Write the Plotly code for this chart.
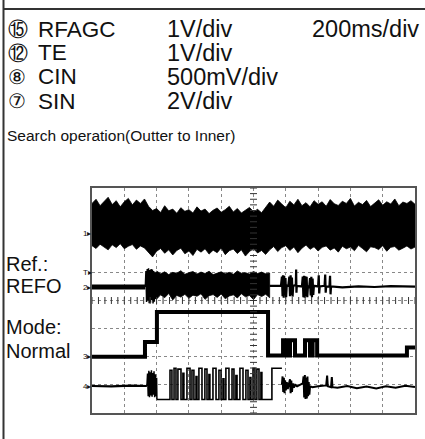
import plotly.graph_objects as go

W, H = 425, 439

# ---------------- text content ----------------
channel_nums = ["⑮", "⑫", "⑧", "⑦"]
channel_names = ["RFAGC", "TE", "CIN", "SIN"]
volts_div = ["1V/div", "1V/div", "500mV/div", "2V/div"]
time_div = "200ms/div"
subtitle = "Search operation(Outter to Inner)"
side_labels = ["Ref.:", "REFO", "Mode:", "Normal"]
marker_labels = ["1", "T", "2", "3", "4"]
marker_levels = [2.4, 1.0, 0.48, -2.0, -3.04]   # divisions

# ---------------- RFAGC (noise band envelope, ms / divisions) ----------------
rfagc_t = list(range(0, 2001, 25))
rfagc_hi = [3.45, 3.60, 3.37, 3.53, 3.67, 3.41, 3.55, 3.33, 3.51, 3.63, 3.40, 3.57, 3.45, 3.61,
            3.35, 3.20, 3.27, 3.13, 3.37, 3.19, 3.25, 3.10, 3.30, 3.17, 3.23, 3.11, 3.33, 3.18, 3.25,
            3.09, 3.21, 3.29, 3.14, 3.23, 3.35, 3.15, 3.27, 3.11, 3.20, 3.31, 3.16, 3.24, 3.12, 3.29,
            3.50, 3.35, 3.57, 3.43, 3.30, 3.53, 3.40, 3.60, 3.37, 3.48, 3.33, 3.55, 3.42, 3.51, 3.35,
            3.59, 3.44, 3.38, 3.53, 3.45, 3.63, 3.36, 3.49, 3.41, 3.56, 3.34, 3.47, 3.58, 3.39, 3.51,
            3.43, 3.61, 3.37, 3.50, 3.45, 3.55, 3.42]
rfagc_lo = [1.95, 1.85, 2.00, 1.90, 1.80, 1.98, 1.88, 2.02, 1.84, 1.93, 1.99, 1.82, 1.94, 1.87,
            1.70, 1.55, 1.75, 1.85, 1.68, 1.80, 1.62, 1.78, 1.86, 1.66, 1.76, 1.60, 1.82, 1.72, 1.84,
            1.65, 1.79, 1.70, 1.87, 1.63, 1.77, 1.83, 1.67, 1.80, 1.58, 1.74, 1.85, 1.69, 1.78, 1.64,
            1.80, 1.92, 1.74, 1.88, 1.95, 1.78, 1.90, 1.70, 1.86, 1.97, 1.82, 1.91, 1.76, 1.89, 1.94,
            1.79, 1.87, 1.72, 1.93, 1.84, 1.90, 1.77, 1.96, 1.85, 1.73, 1.91, 1.88, 1.81, 1.95, 1.75,
            1.89, 1.92, 1.79, 1.86, 1.94, 1.83, 1.90]

# ---------------- TE ----------------
te_base_t = [0, 80, 160, 240, 330]
te_base_y = [0.48, 0.47, 0.49, 0.48, 0.48]
te_burst_t = [330, 334, 338, 342, 346, 350, 354, 358, 362, 366, 370, 374, 378, 382, 386, 390, 394, 398, 402]
te_burst_y = [0.48, 1.05, -0.05, 1.12, 0.00, 1.15, -0.10, 1.08, -0.08, 1.12, 0.02, 1.10, -0.11, 1.05,
              -0.04, 1.00, 0.05, 1.02, 0.10]
te_band_t = list(range(400, 1101, 25))
te_band_hi = [1.05, 0.95, 1.02, 0.92, 1.00, 0.97, 1.06, 0.93, 0.99, 1.03, 0.94, 1.01, 0.96, 1.04, 0.92,
              0.98, 1.02, 0.95, 1.00, 0.93, 1.05, 0.97, 0.99, 0.94, 1.03, 0.96, 1.01, 0.95, 0.98]
te_band_lo = [0.05, 0.20, 0.10, 0.25, 0.02, 0.18, 0.12, 0.22, 0.08, 0.19, 0.15, 0.24, 0.04, 0.17, 0.21,
              0.11, 0.23, 0.06, 0.16, 0.20, 0.09, 0.24, 0.13, 0.18, 0.03, 0.21, 0.14, 0.22, 0.10]
te_tail_t = [1100, 1170, 1176, 1180, 1183, 1187, 1190, 1194, 1198, 1202, 1206, 1215, 1222, 1226, 1230,
             1234, 1238, 1242, 1246, 1262, 1264, 1266, 1268, 1300, 1305, 1309, 1313, 1317, 1321, 1325,
             1329, 1333, 1337, 1345, 1350, 1354, 1358, 1362, 1366, 1370, 1374, 1400, 1404, 1407, 1410,
             1440, 1444, 1447, 1450, 1470, 1474, 1477, 1480, 1550, 1650, 1750, 1850, 2000]
te_tail_y = [0.52, 0.52, 0.85, 0.15, 0.90, 0.10, 0.88, 0.18, 0.80, 0.12, 0.55, 0.50, 0.85, 0.15, 0.90,
             0.20, 0.82, 0.14, 0.52, 0.55, 1.10, 0.28, 0.52, 0.50, 0.85, 0.12, 0.88, 0.10, 0.86, 0.16,
             0.84, 0.12, 0.50, 0.48, 0.80, 0.18, 0.84, 0.12, 0.78, 0.20, 0.52, 0.50, 0.90, 0.25, 0.50,
             0.52, 0.92, 0.28, 0.50, 0.49, 0.88, 0.22, 0.50, 0.47, 0.50, 0.48, 0.51, 0.49]

# ---------------- CIN (step) ----------------
cin_t = [0, 328, 402, 1090, 1183, 1207, 1226, 1257, 1319, 1350, 1366, 1394, 1950, 2000]
cin_y = [-2.0, -1.48, -0.41, -1.96, -1.41, -1.96, -1.41, -1.96, -1.41, -1.96, -1.41, -1.96, -1.67, -1.67]

# ---------------- SIN ----------------
sin_start_t = [0, 120, 240, 340]
sin_start_y = [-3.04, -3.05, -3.03, -3.04]
sin_burst_t = [340, 344, 348, 352, 356, 360, 364, 368, 372, 376, 380, 384, 388, 392, 396, 400, 402]
sin_burst_y = [-3.04, -2.60, -3.40, -2.50, -3.44, -2.55, -3.38, -2.48, -3.42, -2.58, -3.35, -2.52,
               -3.44, -2.62, -3.40, -2.75, -3.52]
sin_low = -3.52
sin_pulse_on = [483, 508, 532, 563, 588, 619, 644, 662, 699, 724, 749, 786, 811, 829, 867, 891, 916,
                953, 978, 997, 1021, 1046]
sin_pulse_off = [495, 520, 551, 569, 607, 631, 650, 681, 712, 730, 768, 799, 817, 848, 879, 898, 935,
                 966, 984, 1009, 1034, 1052]
sin_pulse_top = [-2.48, -2.41, -2.44, -2.59, -2.41, -2.48, -2.70, -2.41, -2.44, -2.63, -2.41, -2.48,
                 -2.78, -2.41, -2.44, -2.67, -2.41, -2.48, -2.74, -2.41, -2.44, -2.56]
sin_high_t = [1114, 1176]
sin_high_y = -2.41
sin_tail_t = [1176, 1180, 1184, 1188, 1192, 1196, 1200, 1206, 1212, 1218, 1226, 1230, 1234, 1238, 1244,
              1250, 1258, 1270, 1290, 1305, 1310, 1314, 1318, 1322, 1326, 1330, 1334, 1338, 1342, 1346,
              1350, 1365, 1400, 1450, 1456, 1460, 1480, 1485, 1489, 1520, 1580, 1640, 1700, 1760, 1820,
              1880, 1940, 2000]
sin_tail_y = [-3.00, -2.70, -3.25, -2.75, -3.30, -2.85, -3.20, -2.90, -3.15, -3.00, -2.80, -3.30, -2.85,
              -3.25, -2.95, -3.10, -3.00, -3.05, -3.00, -2.95, -2.70, -3.45, -2.65, -3.50, -2.75, -3.48,
              -2.70, -3.40, -2.90, -3.35, -3.05, -3.08, -3.05, -3.02, -2.67, -3.05, -3.08, -2.72, -3.08,
              -3.10, -3.04, -3.12, -3.06, -3.13, -3.05, -3.10, -3.03, -3.08]

# ---------------- build figure ----------------
fig = go.Figure()
K = "black"

def band(t, hi, lo, lw=0.8):
    fig.add_trace(go.Scatter(x=list(t) + list(t)[::-1], y=list(hi) + list(lo)[::-1], mode="lines",
                             fill="toself", fillcolor=K, line=dict(color=K, width=lw)))

def line(t, y, lw, shape="linear"):
    fig.add_trace(go.Scatter(x=t, y=y, mode="lines", line=dict(color=K, width=lw, shape=shape)))

band(rfagc_t, rfagc_hi, rfagc_lo)

line(te_base_t, te_base_y, 5)
line(te_burst_t, te_burst_y, 1.5)
band(te_band_t, te_band_hi, te_band_lo)
line(te_tail_t, te_tail_y, 2.2)

line(cin_t, cin_y, 4, shape="hv")

line(sin_start_t, sin_start_y, 2.2)
line(sin_burst_t, sin_burst_y, 1.5)
px, py = [402], [sin_low]
for on, off, top in zip(sin_pulse_on, sin_pulse_off, sin_pulse_top):
    px += [on, on, off, off]
    py += [sin_low, top, top, sin_low]
px += [sin_high_t[0], sin_high_t[0], sin_high_t[1]]
py += [sin_low, sin_high_y, sin_high_y]
line(px, py, 1.6)
line(sin_tail_t, sin_tail_y, 2.0)

# minor ticks on the centre graticule lines
tx = [i * 40 for i in range(51)]
fig.add_trace(go.Scatter(x=tx, y=[0] * len(tx), mode="markers",
                         marker=dict(symbol="line-ns", size=5, line=dict(color="#333", width=1))))
ty = [i * 0.2 - 4 for i in range(41)]
fig.add_trace(go.Scatter(x=[1000] * len(ty), y=ty, mode="markers",
                         marker=dict(symbol="line-ew", size=5, line=dict(color="#333", width=1))))

X0, X1, Y0, Y1 = 92, 415, 188, 413
fig.update_xaxes(range=[0, 2000], domain=[X0 / W, X1 / W], dtick=200, showticklabels=False,
                 showgrid=True, gridcolor="#888", griddash="dot", gridwidth=1, zeroline=False,
                 showline=True, mirror=True, linecolor="#555", linewidth=1.5, ticks="")
fig.update_yaxes(range=[-4, 4], domain=[1 - Y1 / H, 1 - Y0 / H], dtick=1, showticklabels=False,
                 showgrid=True, gridcolor="#888", griddash="dot", gridwidth=1, zeroline=False,
                 showline=True, mirror=True, linecolor="#555", linewidth=1.5, ticks="")

FONT = "Liberation Sans, Arial, sans-serif"

def txt(x, y, s, size, anchor="left"):
    fig.add_annotation(x=x / W, y=1 - y / H, xref="paper", yref="paper", text=s, showarrow=False,
                       xanchor=anchor, yanchor="middle", borderpad=0,
                       font=dict(family=FONT, size=size, color="#111"))

row_y = [29, 53, 77, 101]
for i in range(4):
    txt(7, row_y[i], channel_nums[i], 20)
    txt(37, row_y[i], channel_names[i], 22.5)
    txt(166, row_y[i], volts_div[i], 23.5)
txt(420, row_y[0], time_div, 23.5, anchor="right")
txt(6, 135, subtitle, 15.5)
for s, y in zip(side_labels, [264, 286, 327, 351]):
    txt(5, y, s, 20)

for s, lv in zip(marker_labels, marker_levels):
    fig.add_annotation(x=87 / W, y=lv, xref="paper", yref="y", text=s + "▸", showarrow=False,
                       xanchor="center", yanchor="middle", font=dict(family=FONT, size=8, color="#111"))

# page frame lines
fig.add_shape(type="line", xref="paper", yref="paper", x0=3 / W, x1=1, y0=1 - 9 / H, y1=1 - 9 / H,
              line=dict(color="#333", width=2))
fig.add_shape(type="line", xref="paper", yref="paper", x0=3.5 / W, x1=3.5 / W, y0=0, y1=1,
              line=dict(color="#333", width=2))

fig.update_layout(width=W, height=H, margin=dict(l=0, r=0, t=0, b=0), showlegend=False,
                  plot_bgcolor="white", paper_bgcolor="white", hovermode=False)
fig.write_html("out.html", config={"displayModeBar": False},
               post_script="document.body.style.margin='0px';")
